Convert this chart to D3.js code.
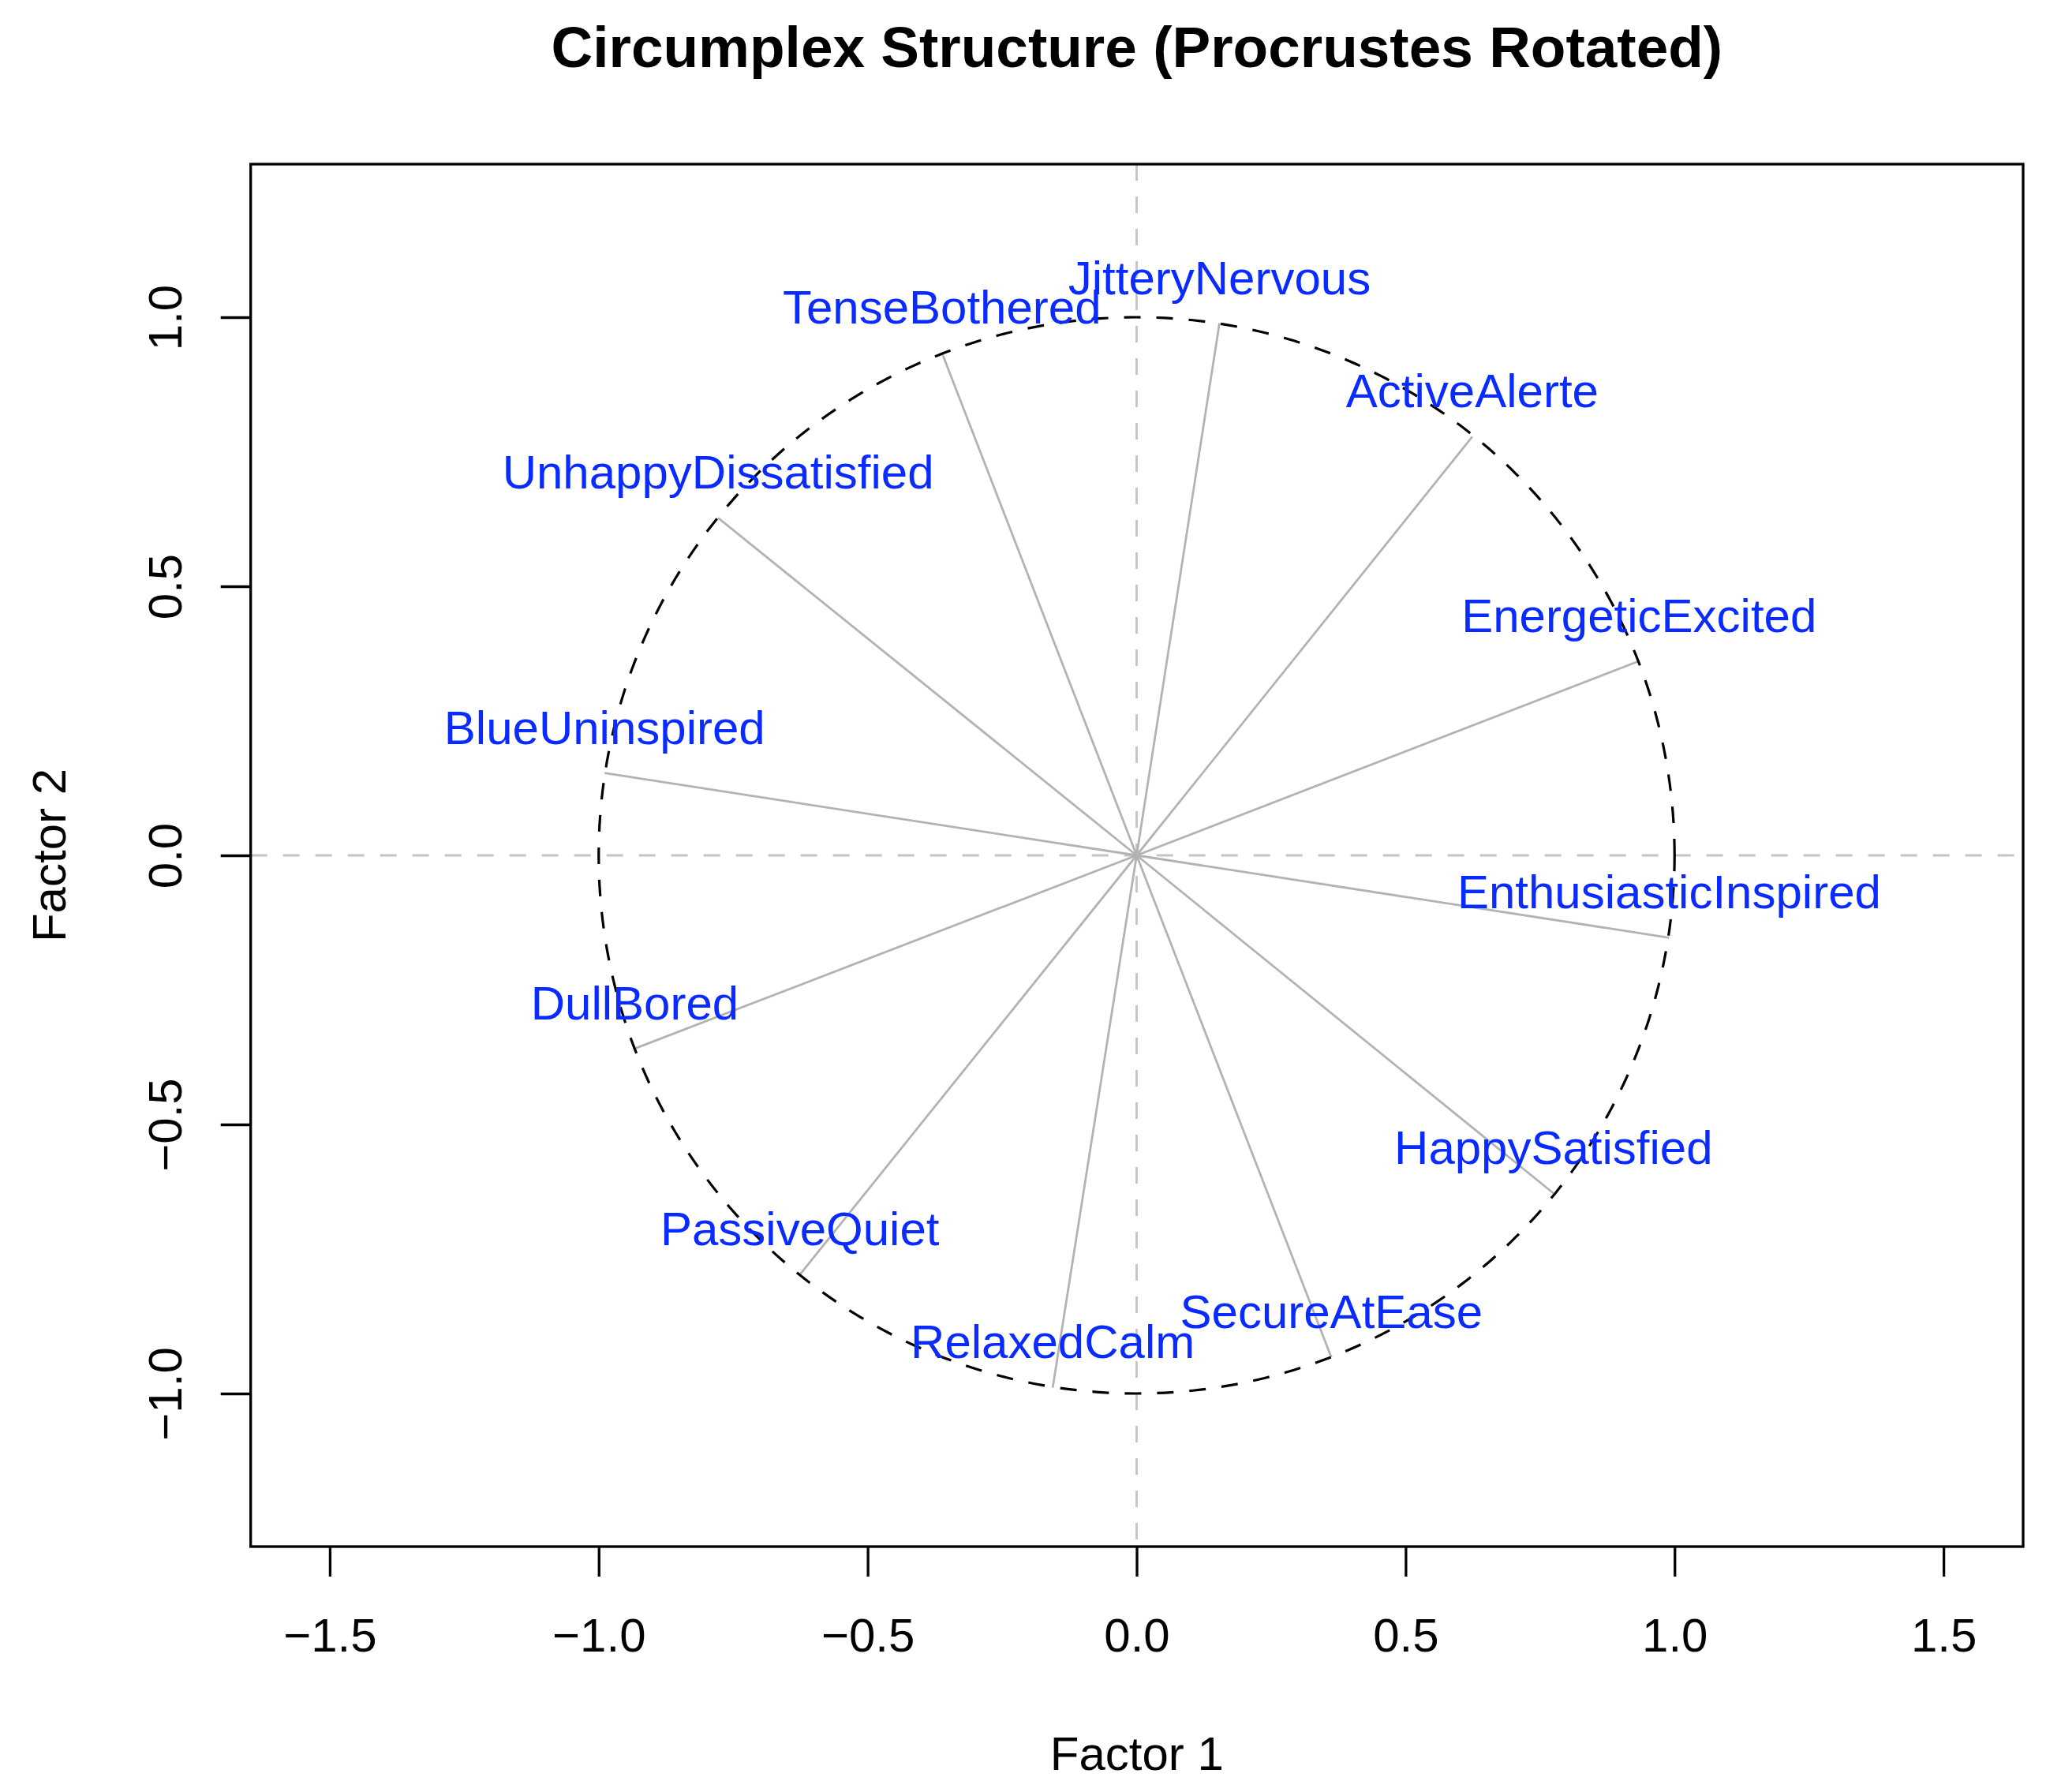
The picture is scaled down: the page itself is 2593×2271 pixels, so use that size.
<!DOCTYPE html>
<html>
<head>
<meta charset="utf-8">
<script src="https://cdn.jsdelivr.net/npm/d3@7"></script>
<style>
  html, body { margin: 0; padding: 0; background: #ffffff; }
  svg { display: block; font-family: "Liberation Sans", Arial, Helvetica, sans-serif; }
</style>
</head>
<body>
<script>
// ---- Data ----
const variables = ["JitteryNervous", "ActiveAlerte", "EnergeticExcited", "EnthusiasticInspired",
  "HappySatisfied", "SecureAtEase", "RelaxedCalm", "PassiveQuiet",
  "DullBored", "BlueUninspired", "UnhappyDissatisfied", "TenseBothered"];
const factor1 = [0.154, 0.624, 0.934, 0.990, 0.775, 0.362, -0.156, -0.626, -0.933, -0.989, -0.778, -0.362];
const factor2 = [0.989, 0.778, 0.361, -0.153, -0.628, -0.933, -0.989, -0.779, -0.359, 0.153, 0.627, 0.934];
const xTicks = [-1.5, -1.0, -0.5, 0.0, 0.5, 1.0, 1.5];
const yTicks = [-1.0, -0.5, 0.0, 0.5, 1.0];
const circleRadius = [1];
const titleText = "Circumplex Structure (Procrustes Rotated)";
const xLabel = "Factor 1";
const yLabel = "Factor 2";

// ---- Layout ----
const W = 2593, H = 2271;
const box = { left: 317.7, right: 2564, top: 208, bottom: 1960 };

const x = d3.scaleLinear().domain([-1.647, 1.648]).range([box.left, box.right]);
const y = d3.scaleLinear().domain([-1.2845, 1.2845]).range([box.bottom, box.top]);

const svg = d3.select("body").append("svg").attr("width", W).attr("height", H);
svg.append("rect").attr("width", W).attr("height", H).attr("fill", "#fff");

const fmt = v => (v < 0 ? "\u2212" : "") + Math.abs(v).toFixed(1);

// reference lines (dashed grey)
const plot = svg.append("g");
plot.append("line")
  .attr("x1", x(0)).attr("x2", x(0)).attr("y1", box.top).attr("y2", box.bottom)
  .attr("stroke", "#c4c4c4").attr("stroke-width", 2.8).attr("stroke-dasharray", "21,20");
plot.append("line")
  .attr("x1", box.left).attr("x2", box.right).attr("y1", y(0)).attr("y2", y(0))
  .attr("stroke", "#c4c4c4").attr("stroke-width", 2.8).attr("stroke-dasharray", "21,20");

// vectors
const pts = variables.map((v, i) => ({ name: v, f1: factor1[i], f2: factor2[i] }));
plot.selectAll("line.vec").data(pts).enter().append("line")
  .attr("class", "vec")
  .attr("x1", x(0)).attr("y1", y(0))
  .attr("x2", d => x(d.f1)).attr("y2", d => y(d.f2))
  .attr("stroke", "#b3b3b3").attr("stroke-width", 2.8);

// unit circle (dashed)
const angles = d3.range(0, 361, 1);
circleRadius.forEach(r => {
  const line = d3.line().x(a => x(r * Math.cos(a * Math.PI / 180))).y(a => y(r * Math.sin(a * Math.PI / 180)));
  plot.append("path").attr("d", line(angles))
    .attr("fill", "none").attr("stroke", "#000").attr("stroke-width", 3.2)
    .attr("stroke-dasharray", "21,20");
});

// labels
plot.selectAll("text.lab").data(pts).enter().append("text")
  .attr("class", "lab")
  .attr("x", d => x(d.f1)).attr("y", d => y(d.f2) - 37)
  .attr("text-anchor", "middle")
  .attr("font-size", 60)
  .attr("fill", "#0a2bff")
  .text(d => d.name);

// box
svg.append("rect")
  .attr("x", box.left).attr("y", box.top)
  .attr("width", box.right - box.left).attr("height", box.bottom - box.top)
  .attr("fill", "none").attr("stroke", "#000").attr("stroke-width", 3.3);

// x axis
const xAxis = d3.axisBottom(x).tickValues(xTicks).tickFormat(fmt).tickSize(38).tickPadding(38).tickSizeOuter(0);
const gx = svg.append("g").attr("transform", `translate(0,${box.bottom})`).call(xAxis);
gx.select(".domain").remove();
gx.selectAll(".tick line").attr("stroke", "#000").attr("stroke-width", 3.3);
gx.selectAll(".tick text").attr("font-size", 60).attr("fill", "#000")
  .attr("font-family", "'Liberation Sans', Arial, Helvetica, sans-serif")
  .attr("dy", null).attr("y", 133);

// y axis
const yAxis = d3.axisLeft(y).tickValues(yTicks).tickFormat(fmt).tickSize(38).tickSizeOuter(0);
const gy = svg.append("g").attr("transform", `translate(${box.left},0)`).call(yAxis);
gy.select(".domain").remove();
gy.selectAll(".tick line").attr("stroke", "#000").attr("stroke-width", 3.3);
gy.selectAll(".tick text")
  .attr("font-size", 60).attr("fill", "#000")
  .attr("font-family", "'Liberation Sans', Arial, Helvetica, sans-serif")
  .attr("x", null).attr("dy", null)
  .attr("text-anchor", "middle")
  .attr("transform", `translate(${230 - box.left},0) rotate(-90)`)
  .attr("y", 0);

// title
svg.append("text")
  .attr("x", (box.left + box.right) / 2).attr("y", 85)
  .attr("text-anchor", "middle").attr("font-size", 73).attr("font-weight", "bold")
  .attr("fill", "#000").text(titleText);

// axis titles
svg.append("text")
  .attr("x", (box.left + box.right) / 2).attr("y", 2243)
  .attr("text-anchor", "middle").attr("font-size", 60).attr("fill", "#000").text(xLabel);
svg.append("text")
  .attr("transform", `translate(83,${(box.top + box.bottom) / 2}) rotate(-90)`)
  .attr("text-anchor", "middle").attr("font-size", 60).attr("fill", "#000").text(yLabel);
</script>
</body>
</html>
